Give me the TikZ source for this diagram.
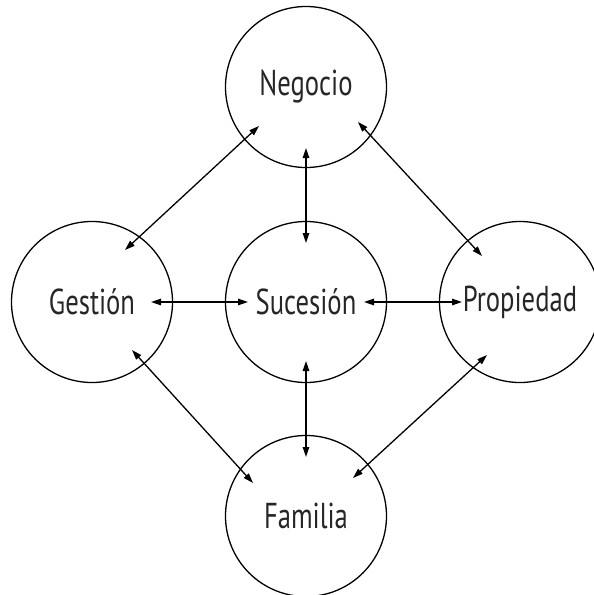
\documentclass[tikz,border=0pt]{standalone}
\usepackage{fontspec}
\setmainfont[FakeStretch=0.74]{PT Sans}
\usetikzlibrary{arrows.meta}
\begin{document}
\begin{tikzpicture}[x=1pt,y=-1pt,
  ring/.style={draw=black, line width=1.3pt, circle, minimum size=161pt, inner sep=0pt,
    font=\fontsize{36}{36}\selectfont, text=black!85},
  link/.style={line width=1.3pt, {Triangle[length=10pt,width=6.5pt]}-{Triangle[length=10pt,width=6.5pt]}}]
\useasboundingbox (0,0) rectangle (594,595);
\node[ring] (neg) at (306,87) {Negocio};
\node[ring] (ges) at (92,302) {Gestión};
\node[ring] (suc) at (306,302) {Sucesión};
\node[ring] (pro) at (520,302) {Propiedad};
\node[ring] (fam) at (306,516) {Familia};
% arrow end points
\coordinate (ng1) at (259,126); \coordinate (ng2) at (125,250);
\coordinate (np1) at (358,122); \coordinate (np2) at (482,256);
\coordinate (ns1) at (306,148); \coordinate (ns2) at (306,243);
\coordinate (gs1) at (151,302); \coordinate (gs2) at (248,302);
\coordinate (sp1) at (364,302); \coordinate (sp2) at (462,302);
\coordinate (sf1) at (306,361); \coordinate (sf2) at (306,457);
\coordinate (gf1) at (132,350); \coordinate (gf2) at (253,483);
\coordinate (pf1) at (487,355); \coordinate (pf2) at (353,478);
\draw[link] (ng1) -- (ng2);
\draw[link] (np1) -- (np2);
\draw[link] (ns1) -- (ns2);
\draw[link] (gs1) -- (gs2);
\draw[link] (sp1) -- (sp2);
\draw[link] (sf1) -- (sf2);
\draw[link] (gf1) -- (gf2);
\draw[link] (pf1) -- (pf2);
\end{tikzpicture}
\end{document}
